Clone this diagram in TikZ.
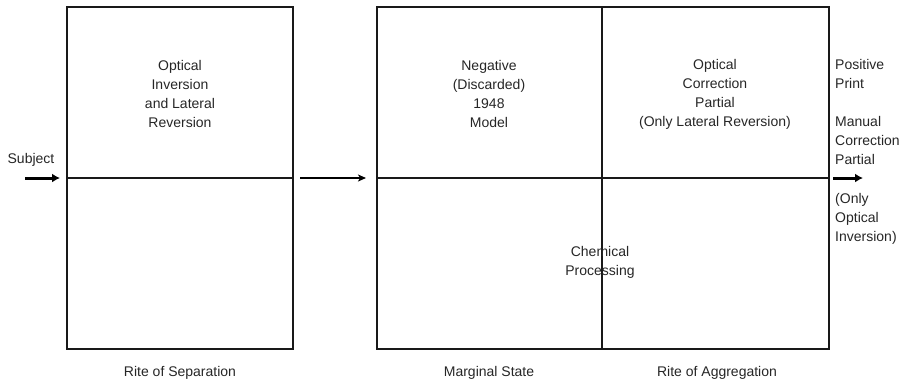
\documentclass[tikz,border=0pt]{standalone}
\usepackage{fontspec}
\setmainfont{Liberation Sans}
\usetikzlibrary{arrows.meta}
\begin{document}
\begin{tikzpicture}[x=1pt,y=-1pt,
  frame/.style={draw=black!90, line width=2.2pt, minimum height=342pt,
    inner sep=0pt, outer sep=0pt, anchor=north west},
  rule/.style={draw=black!90, line width=2.2pt},
  txt/.style={font=\fontsize{14}{19}\selectfont, align=center,
    inner sep=0pt, text=black!85},
  ltxt/.style={txt, align=left, anchor=west},
  boldarrow/.style={line width=3pt, -{Latex[length=8pt,width=9pt]}},
  linkarrow/.style={line width=1.4pt, -{Stealth[length=8pt,width=7pt,inset=2pt]}}
]
\useasboundingbox (0,0) rectangle (911,384);

% the three stages
\node[frame, minimum width=226pt] (sep) at (67,7) {};
\node[frame, minimum width=225pt] (marg) at (377,7) {};
\node[frame, minimum width=227pt] (agg) at (602,7) {};

% horizontal axes through the stages
\draw[rule] (sep.west) -- (sep.east);
\draw[rule] (marg.west) -- (agg.east);

% flow arrows
\coordinate (subjstart) at (25,178);
\coordinate (outend) at (863,178);
\draw[boldarrow] (subjstart) -- ([xshift=-7pt]sep.west);
\draw[linkarrow] ([xshift=7pt]sep.east) -- ([xshift=-11pt]marg.west);
\draw[boldarrow] ([xshift=4pt]agg.east) -- (outend);

% labels
\node[txt] (subject) at (31,160) {Subject};
\node[txt] (inv) at (180,94) {Optical\\Inversion\\and Lateral\\Reversion};
\node[txt] (neg) at (489,94) {Negative\\(Discarded)\\1948\\Model};
\node[txt] (corr) at (715,94) {Optical\\Correction\\Partial\\(Only Lateral Reversion)};
\node[ltxt] (print) at (835,74) {Positive\\Print};
\node[ltxt] (manual) at (835,140.5) {Manual\\Correction\\Partial};
\node[ltxt] (only) at (835,219) {(Only\\Optical\\Inversion)};
\node[txt] (chem) at (600,262.5) {Chemical\\Processing};

\node[txt] (sepl) at (180,373) {Rite of Separation};
\node[txt] (margl) at (489,373) {Marginal State};
\node[txt] (aggl) at (717,373) {Rite of Aggregation};
\end{tikzpicture}
\end{document}
